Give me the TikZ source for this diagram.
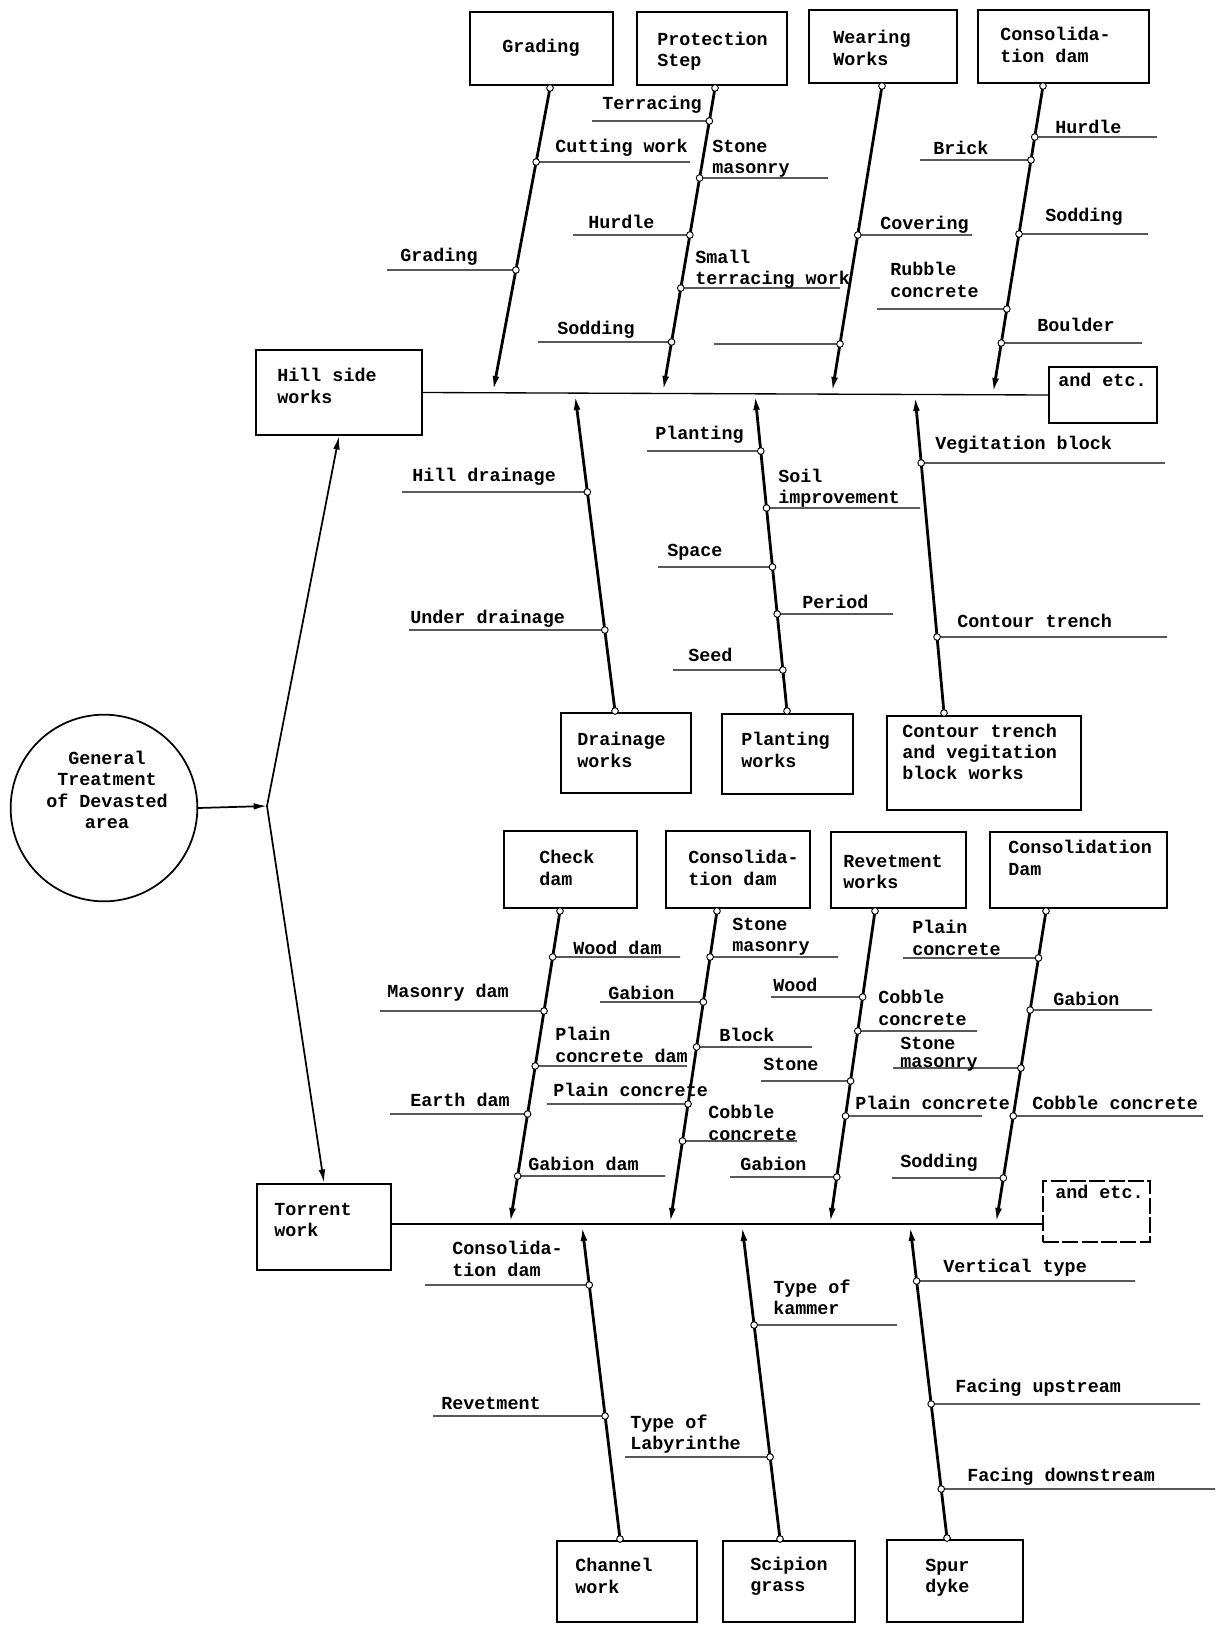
\documentclass[tikz,border=0pt]{standalone}
\usepackage{fontspec}
\setmonofont{Liberation Mono}
\usetikzlibrary{arrows.meta,fit,intersections,calc}
\tikzset{
  box/.style={draw, line width=1.7pt, inner sep=0pt},
  bone/.style={line width=2.1pt},
  twig/.style={line width=0.8pt},
  spine/.style={line width=1pt},
  conn/.style={line width=1.3pt},
  ring/.style={draw, circle, fill=white, inner sep=0pt, minimum size=5pt, line width=0.7pt},
  lbl/.style={font=\ttfamily\bfseries\fontsize{13.8}{16}\selectfont, inner sep=0pt, anchor=west, align=left},
  tight/.style={font=\ttfamily\bfseries\fontsize{13.8}{13.2}\selectfont},
  bonetip/.style={-{Latex[length=12pt,width=5pt]}},
  conntip/.style={-{Latex[length=10pt,width=5pt]}},
}
\newcommand\mktwig[4]{%
  \path[name path=h#1] (0,#3) -- (1216,#3);
  \path[name intersections={of=#2 and h#1, by={#1a}}];
  \coordinate (#1b) at (#4,#3);
  \draw[twig] (#1a) -- (#1b);
  \node[ring] (#1r) at (#1a) {};
}
\newcommand\mkbone[5]{%
  \coordinate (#1e) at (#2,#3);
  \coordinate (#1s) at (#4,#5);
  \path[name path=#1] (#1e) -- (#1s);
  \draw[bone,bonetip] (#1e) -- (#1s);
  \node[ring] (#1ring) at (#1e) {};
}
\begin{document}
\begin{tikzpicture}[x=0.75pt,y=-0.75pt]
\useasboundingbox (0,0) rectangle (1216,1627);

% ---------- boxes ----------
\node[box, fit={(470,12) (613,85)}] (grading) {};
\node[box, fit={(637,12) (787,85)}] (prot) {};
\node[box, fit={(809,10) (957,83)}] (wear) {};
\node[box, fit={(978,10) (1149,83)}] (consA) {};
\node[box, fit={(256,350) (422,435)}] (hill) {};
\node[box, fit={(1049,367) (1157,423)}] (etcA) {};
\node[box, fit={(561,713) (691,793)}] (drain) {};
\node[box, fit={(722,714) (853,794)}] (plant) {};
\node[box, fit={(887,716) (1081,810)}] (contour) {};
\node[box, fit={(504,831) (637,908)}] (check) {};
\node[box, fit={(666,831) (810,908)}] (consB) {};
\node[box, fit={(831,832) (966,908)}] (revet) {};
\node[box, fit={(990,832) (1167,908)}] (consC) {};
\node[box, fit={(257,1184) (391,1270)}] (torrent) {};
\node[box, fit={(1043,1181) (1150,1242)}, dash pattern=on 12pt off 2.5pt] (etcB) {};
\node[box, fit={(557,1541) (697,1622)}] (channel) {};
\node[box, fit={(723,1541) (855,1622)}] (scipion) {};
\node[box, fit={(887,1540) (1023,1622)}] (spur) {};
\node[draw, circle, line width=1.3pt, minimum size=140pt, inner sep=0pt] (gen) at (104,808) {};

% ---------- box texts ----------
\node[lbl] (tgrading) at (502,48) {Grading};
\node[lbl] (tprot) at (657,51) {Protection\\Step};
\node[lbl] (twear) at (833,48) {Wearing\\Works};
\node[lbl] (tconsA) at (1000,45) {Consolida-\\tion dam};
\node[lbl] (thill) at (277,386) {Hill side\\works};
\node[lbl] (tetcA) at (1058,380) {and etc.};
\node[lbl] (tdrain) at (577,750) {Drainage\\works};
\node[lbl] (tplant) at (741,750) {Planting\\works};
\node[lbl] (tcontour) at (902,752) {Contour trench\\and vegitation\\block works};
\node[lbl] (tcheck) at (539,868) {Check\\dam};
\node[lbl] (tconsB) at (688,868) {Consolida-\\tion dam};
\node[lbl] (trevet) at (843,872) {Revetment\\works};
\node[lbl] (tconsC) at (1008,858) {Consolidation\\Dam};
\node[lbl] (ttorrent) at (274,1220) {Torrent\\work};
\node[lbl] (tetcB) at (1055,1192) {and etc.};
\node[lbl] (tchannel) at (575,1576) {Channel\\work};
\node[lbl] (tscipion) at (750,1576) {Scipion\\grass};
\node[lbl] (tspur) at (925,1578) {Spur\\dyke};
\node[lbl, anchor=center, align=center] (tgen) at (107,790) {General\\Treatment\\of Devasted\\area};

% ---------- main connectors ----------
\coordinate (J) at (267,806);
\draw[conn,conntip] (gen.east) -- (J);
\draw[conn,conntip] (J) -- (hill.south);
\draw[conn,conntip] (J) -- (torrent.north);
\draw[spine] (hill.east) -- (etcA.west);
\coordinate (s2) at (1043,1224);
\draw[spine] (torrent.east |- s2) -- (s2);

% ---------- bones ----------
\mkbone{B1}{550}{88}{493}{392}
\mkbone{B2}{715}{88}{663}{392}
\mkbone{B3}{882}{86}{832}{393}
\mkbone{B4}{1043}{86}{993}{394}
\mkbone{D1}{615}{711}{575}{394}
\mkbone{D2}{787}{711}{755}{394}
\mkbone{D3}{944}{713}{915}{395}
\mkbone{L1}{560}{911}{510}{1224}
\mkbone{L2}{717}{911}{670}{1224}
\mkbone{L3}{875}{911}{830}{1224}
\mkbone{L4}{1046}{911}{996}{1224}
\mkbone{C1}{620}{1539}{582}{1225}
\mkbone{C2}{780}{1539}{742}{1225}
\mkbone{C3}{947}{1538}{910}{1225}

% ---------- twigs: hill side works ----------
\mktwig{cutting}{B1}{162}{690}
\mktwig{gradingb}{B1}{270}{387}
\mktwig{terracing}{B2}{121}{592}
\mktwig{hurdleA}{B2}{235}{573}
\mktwig{soddingA}{B2}{342}{538}
\mktwig{stonemA}{B2}{178}{828}
\mktwig{smallt}{B2}{288}{840}
\mktwig{blank}{B3}{344}{714}
\mktwig{covering}{B3}{235}{972}
\mktwig{brick}{B4}{160}{920}
\mktwig{rubble}{B4}{309}{877}
\mktwig{hurdleB}{B4}{137}{1157}
\mktwig{soddingB}{B4}{234}{1148}
\mktwig{boulder}{B4}{343}{1142}
\node[lbl] (lcutting) at (555,148) {Cutting work};
\node[lbl] (lgradingb) at (400,257) {Grading};
\node[lbl] (lterracing) at (602,105) {Terracing};
\node[lbl] (lhurdleA) at (588,222) {Hurdle};
\node[lbl] (lsoddingA) at (557,330) {Sodding};
\node[lbl] (lstonemA) at (712,159) {Stone\\masonry};
\node[lbl] (lsmallt) at (695,269) {Small\\terracing work};
\node[lbl] (lcovering) at (880,225) {Covering};
\node[lbl] (lbrick) at (933,148) {Brick};
\node[lbl] (lrubble) at (890,280) {Rubble\\concrete};
\node[lbl] (lhurdleB) at (1055,127) {Hurdle};
\node[lbl] (lsoddingB) at (1045,217) {Sodding};
\node[lbl] (lboulder) at (1037,325) {Boulder};

% ---------- twigs: middle ----------
\mktwig{hilld}{D1}{492}{402}
\mktwig{underd}{D1}{630}{409}
\mktwig{planting}{D2}{451}{647}
\mktwig{soil}{D2}{508}{920}
\mktwig{space}{D2}{567}{658}
\mktwig{period}{D2}{614}{893}
\mktwig{seed}{D2}{670}{673}
\mktwig{vegb}{D3}{463}{1165}
\mktwig{contt}{D3}{637}{1167}
\node[lbl] (lhilld) at (412,477) {Hill drainage};
\node[lbl] (lunderd) at (410,619) {Under drainage};
\node[lbl] (lplanting) at (655,435) {Planting};
\node[lbl] (lsoil) at (778,488) {Soil\\improvement};
\node[lbl] (lspace) at (667,552) {Space};
\node[lbl] (lperiod) at (802,602) {Period};
\node[lbl] (lseed) at (688,655) {Seed};
\node[lbl] (lvegb) at (935,445) {Vegitation block};
\node[lbl] (lcontt) at (957,621) {Contour trench};

% ---------- twigs: torrent work (upper) ----------
\mktwig{wooddam}{L1}{957}{680}
\mktwig{masonry}{L1}{1011}{380}
\mktwig{pcdam}{L1}{1066}{687}
\mktwig{earth}{L1}{1114}{390}
\mktwig{gabiondam}{L1}{1176}{665}
\mktwig{gabionA}{L2}{1002}{600}
\mktwig{plaincA}{L2}{1104}{547}
\mktwig{stonemB}{L2}{957}{838}
\mktwig{block}{L2}{1047}{812}
\mktwig{cobbleA}{L2}{1141}{797}
\mktwig{gabionB}{L3}{1177}{730}
\mktwig{wood}{L3}{997}{771}
\mktwig{cobbleB}{L3}{1031}{977}
\mktwig{stone}{L3}{1081}{761}
\mktwig{plaincB}{L3}{1116}{982}
\mktwig{plaincC}{L4}{958}{903}
\mktwig{gabionC}{L4}{1010}{1152}
\mktwig{stonemC}{L4}{1068}{893}
\mktwig{cobbleC}{L4}{1116}{1203}
\mktwig{soddingC}{L4}{1178}{892}
\node[lbl] (lwooddam) at (573,948) {Wood dam};
\node[lbl] (lmasonry) at (387,993) {Masonry dam};
\node[lbl] (lpcdam) at (555,1045) {Plain\\concrete dam};
\node[lbl] (learth) at (410,1100) {Earth dam};
\node[lbl] (lgabiondam) at (528,1164) {Gabion dam};
\node[lbl] (lgabionA) at (608,993) {Gabion};
\node[lbl] (lplaincA) at (553,1090) {Plain concrete};
\node[lbl] (lstonemB) at (732,937) {Stone\\masonry};
\node[lbl] (lblock) at (719,1035) {Block};
\node[lbl] (lcobbleA) at (708,1123) {Cobble\\concrete};
\node[lbl] (lgabionB) at (740,1164) {Gabion};
\node[lbl] (lwood) at (773,985) {Wood};
\node[lbl] (lcobbleB) at (878,1008) {Cobble\\concrete};
\node[lbl] (lstone) at (763,1064) {Stone};
\node[lbl] (lplaincB) at (855,1103) {Plain concrete};
\node[lbl] (lplaincC) at (912,938) {Plain\\concrete};
\node[lbl] (lgabionC) at (1053,999) {Gabion};
\node[lbl, tight] (lstonemC) at (900,1054) {Stone\\masonry};
\node[lbl] (lcobbleC) at (1032,1103) {Cobble concrete};
\node[lbl] (lsoddingC) at (900,1163) {Sodding};

% ---------- twigs: bottom ----------
\mktwig{consd}{C1}{1285}{425}
\mktwig{revetment}{C1}{1416}{433}
\mktwig{kammer}{C2}{1325}{897}
\mktwig{labyr}{C2}{1457}{625}
\mktwig{vertical}{C3}{1281}{1135}
\mktwig{facingup}{C3}{1404}{1200}
\mktwig{facingdown}{C3}{1489}{1215}
\node[lbl] (lconsd) at (452,1259) {Consolida-\\tion dam};
\node[lbl] (lrevetment) at (441,1403) {Revetment};
\node[lbl] (lkammer) at (773,1297) {Type of\\kammer};
\node[lbl] (llabyr) at (630,1434) {Type of\\Labyrinthe};
\node[lbl] (lvertical) at (943,1268) {Vertical type};
\node[lbl] (lfacingup) at (955,1388) {Facing upstream};
\node[lbl] (lfacingdown) at (967,1477) {Facing downstream};
\end{tikzpicture}
\end{document}
